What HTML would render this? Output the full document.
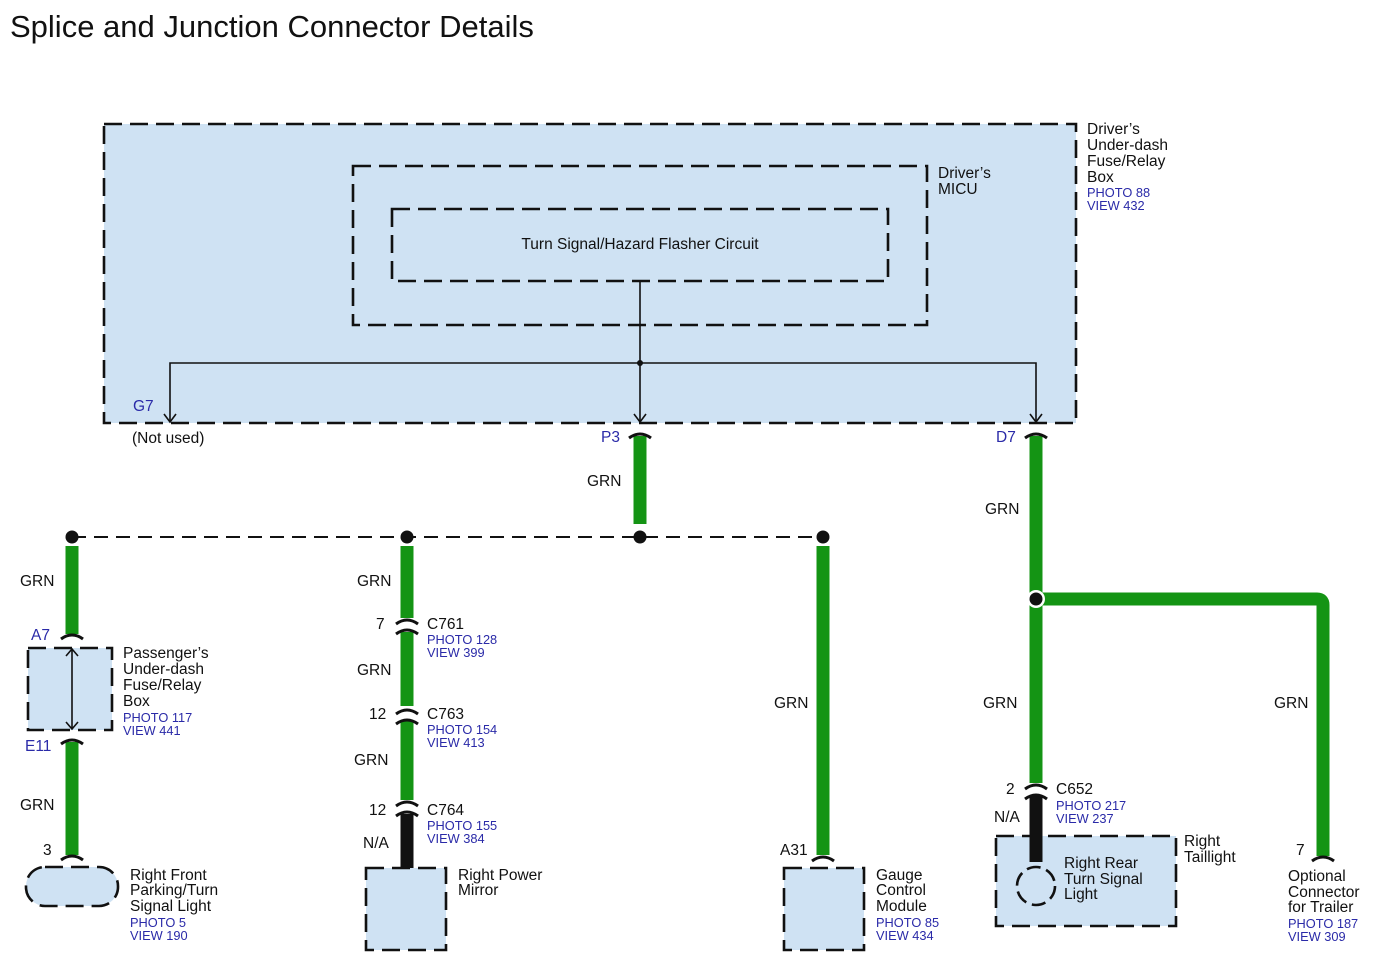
<!DOCTYPE html>
<html><head><meta charset="utf-8"><style>
html,body{margin:0;padding:0;background:#fff;}
svg{display:block;}
text{font-family:"Liberation Sans",sans-serif;font-size:15.5px;fill:#111;}
.b{fill:#2a2aa8;font-size:12.8px;}
.bl{fill:#2a2aa8;font-size:15.5px;}
</style></head><body>
<svg width="1374" height="966" viewBox="0 0 1374 966" xmlns="http://www.w3.org/2000/svg">
<text x="10" y="37" style="font-size:31px">Splice and Junction Connector Details</text>

<g stroke="#111" stroke-width="2.6" stroke-dasharray="18 8" fill="#cfe2f3">
<rect x="104" y="124" width="972" height="299"/>
<rect x="353" y="166" width="574" height="159"/>
<rect x="392" y="209" width="496" height="72"/>
<rect x="28" y="648" width="84" height="82"/>
<rect x="366" y="868" width="80" height="82"/>
<rect x="784" y="868" width="80" height="82"/>
<rect x="996" y="836" width="180" height="90"/>
<rect x="26" y="867" width="92" height="39" rx="19"/>
</g>
<text x="640" y="249" text-anchor="middle">Turn Signal/Hazard Flasher Circuit</text>

<g stroke="#111" stroke-width="1.6" fill="none">
<path d="M640 281 V422 M170 422 V363 H1036 V422"/>
<path d="M634 414 L640 422 L646 414 M164 414 L170 422 L176 414 M1030 414 L1036 422 L1042 414"/>
<path d="M72 650 V728 M66 656 L72 649 L78 656 M66 722 L72 729 L78 722"/>
</g>
<circle cx="640" cy="363" r="3" fill="#111"/>

<text x="1087" y="134">Driver’s</text><text x="1087" y="150">Under-dash</text><text x="1087" y="166">Fuse/Relay</text><text x="1087" y="182">Box</text>
<text class="b" x="1087" y="197">PHOTO 88</text><text class="b" x="1087" y="210">VIEW 432</text>
<text x="938" y="178">Driver’s</text><text x="938" y="194">MICU</text>
<text class="bl" x="133" y="411">G7</text>
<text x="132" y="443">(Not used)</text>
<text class="bl" x="601" y="442">P3</text>
<text class="bl" x="996" y="442">D7</text>

<line x1="72" y1="537" x2="823" y2="537" stroke="#111" stroke-width="2" stroke-dasharray="14 8"/>

<g stroke="#149414" stroke-width="13" fill="none">
<path d="M640 436 V524"/>
<path d="M72 546 V634 M72 742 V855"/>
<path d="M407 546 V618 M407 632 V706 M407 720 V800"/>
<path d="M823 546 V855"/>
<path d="M1036 436 V783"/>
<path d="M1036 599 H1317 Q1323 599 1323 605 V856"/>
</g>
<g stroke="#111" stroke-width="13">
<path d="M407 814 V868 M1036 796 V862"/>
</g>
<g fill="#111">
<circle cx="72" cy="537" r="6.5"/><circle cx="407" cy="537" r="6.5"/><circle cx="640" cy="537" r="6.5"/><circle cx="823" cy="537" r="6.5"/>
</g>
<circle cx="1036" cy="599" r="9" fill="#fff"/><circle cx="1036" cy="599" r="6.5" fill="#111"/>

<g stroke="#111" stroke-width="3" fill="none">
<path d="M629 438 Q640 430 651 438 M1025 438 Q1036 430 1047 438"/>
<path d="M61 639 Q72 631 83 639 M61 744 Q72 736 83 744 M61 860 Q72 852 83 860"/>
<path d="M396 624 Q407 616 418 624 M396 634 Q407 626 418 634"/>
<path d="M396 714 Q407 706 418 714 M396 724 Q407 716 418 724"/>
<path d="M396 806 Q407 798 418 806 M396 816 Q407 808 418 816"/>
<path d="M812 861 Q823 853 834 861 M1312 861 Q1323 853 1334 861"/>
<path d="M1025 789 Q1036 781 1047 789 M1025 799 Q1036 791 1047 799"/>
</g>
<circle cx="1036" cy="886" r="19" fill="none" stroke="#111" stroke-width="2.6" stroke-dasharray="14 6"/>

<text x="587" y="486">GRN</text>
<text x="985" y="514">GRN</text>
<text x="20" y="586">GRN</text><text x="357" y="586">GRN</text>
<text class="bl" x="31" y="640">A7</text>
<text x="123" y="658">Passenger’s</text><text x="123" y="674">Under-dash</text><text x="123" y="690">Fuse/Relay</text><text x="123" y="706">Box</text>
<text class="b" x="123" y="722">PHOTO 117</text><text class="b" x="123" y="735">VIEW 441</text>
<text class="bl" x="25" y="751">E11</text>
<text x="20" y="810">GRN</text>
<text x="43" y="855">3</text>
<text x="130" y="880">Right Front</text><text x="130" y="895">Parking/Turn</text><text x="130" y="911">Signal Light</text>
<text class="b" x="130" y="927">PHOTO 5</text><text class="b" x="130" y="940">VIEW 190</text>

<text x="376" y="629">7</text><text x="427" y="629">C761</text>
<text class="b" x="427" y="644">PHOTO 128</text><text class="b" x="427" y="657">VIEW 399</text>
<text x="357" y="675">GRN</text>
<text x="369" y="719">12</text><text x="427" y="719">C763</text>
<text class="b" x="427" y="734">PHOTO 154</text><text class="b" x="427" y="747">VIEW 413</text>
<text x="354" y="765">GRN</text>
<text x="369" y="815">12</text><text x="427" y="815">C764</text>
<text class="b" x="427" y="830">PHOTO 155</text><text class="b" x="427" y="843">VIEW 384</text>
<text x="363" y="848">N/A</text>
<text x="458" y="880">Right Power</text><text x="458" y="895">Mirror</text>

<text x="774" y="708">GRN</text>
<text x="780" y="855">A31</text>
<text x="876" y="880">Gauge</text><text x="876" y="895">Control</text><text x="876" y="911">Module</text>
<text class="b" x="876" y="927">PHOTO 85</text><text class="b" x="876" y="940">VIEW 434</text>

<text x="983" y="708">GRN</text><text x="1274" y="708">GRN</text>
<text x="1006" y="794">2</text><text x="1056" y="794">C652</text>
<text class="b" x="1056" y="810">PHOTO 217</text><text class="b" x="1056" y="823">VIEW 237</text>
<text x="994" y="822">N/A</text>
<text x="1184" y="846">Right</text><text x="1184" y="862">Taillight</text>
<text x="1064" y="868">Right Rear</text><text x="1064" y="884">Turn Signal</text><text x="1064" y="899">Light</text>
<text x="1296" y="855">7</text>
<text x="1288" y="881">Optional</text><text x="1288" y="897">Connector</text><text x="1288" y="912">for Trailer</text>
<text class="b" x="1288" y="928">PHOTO 187</text><text class="b" x="1288" y="941">VIEW 309</text>
</svg>
</body></html>
